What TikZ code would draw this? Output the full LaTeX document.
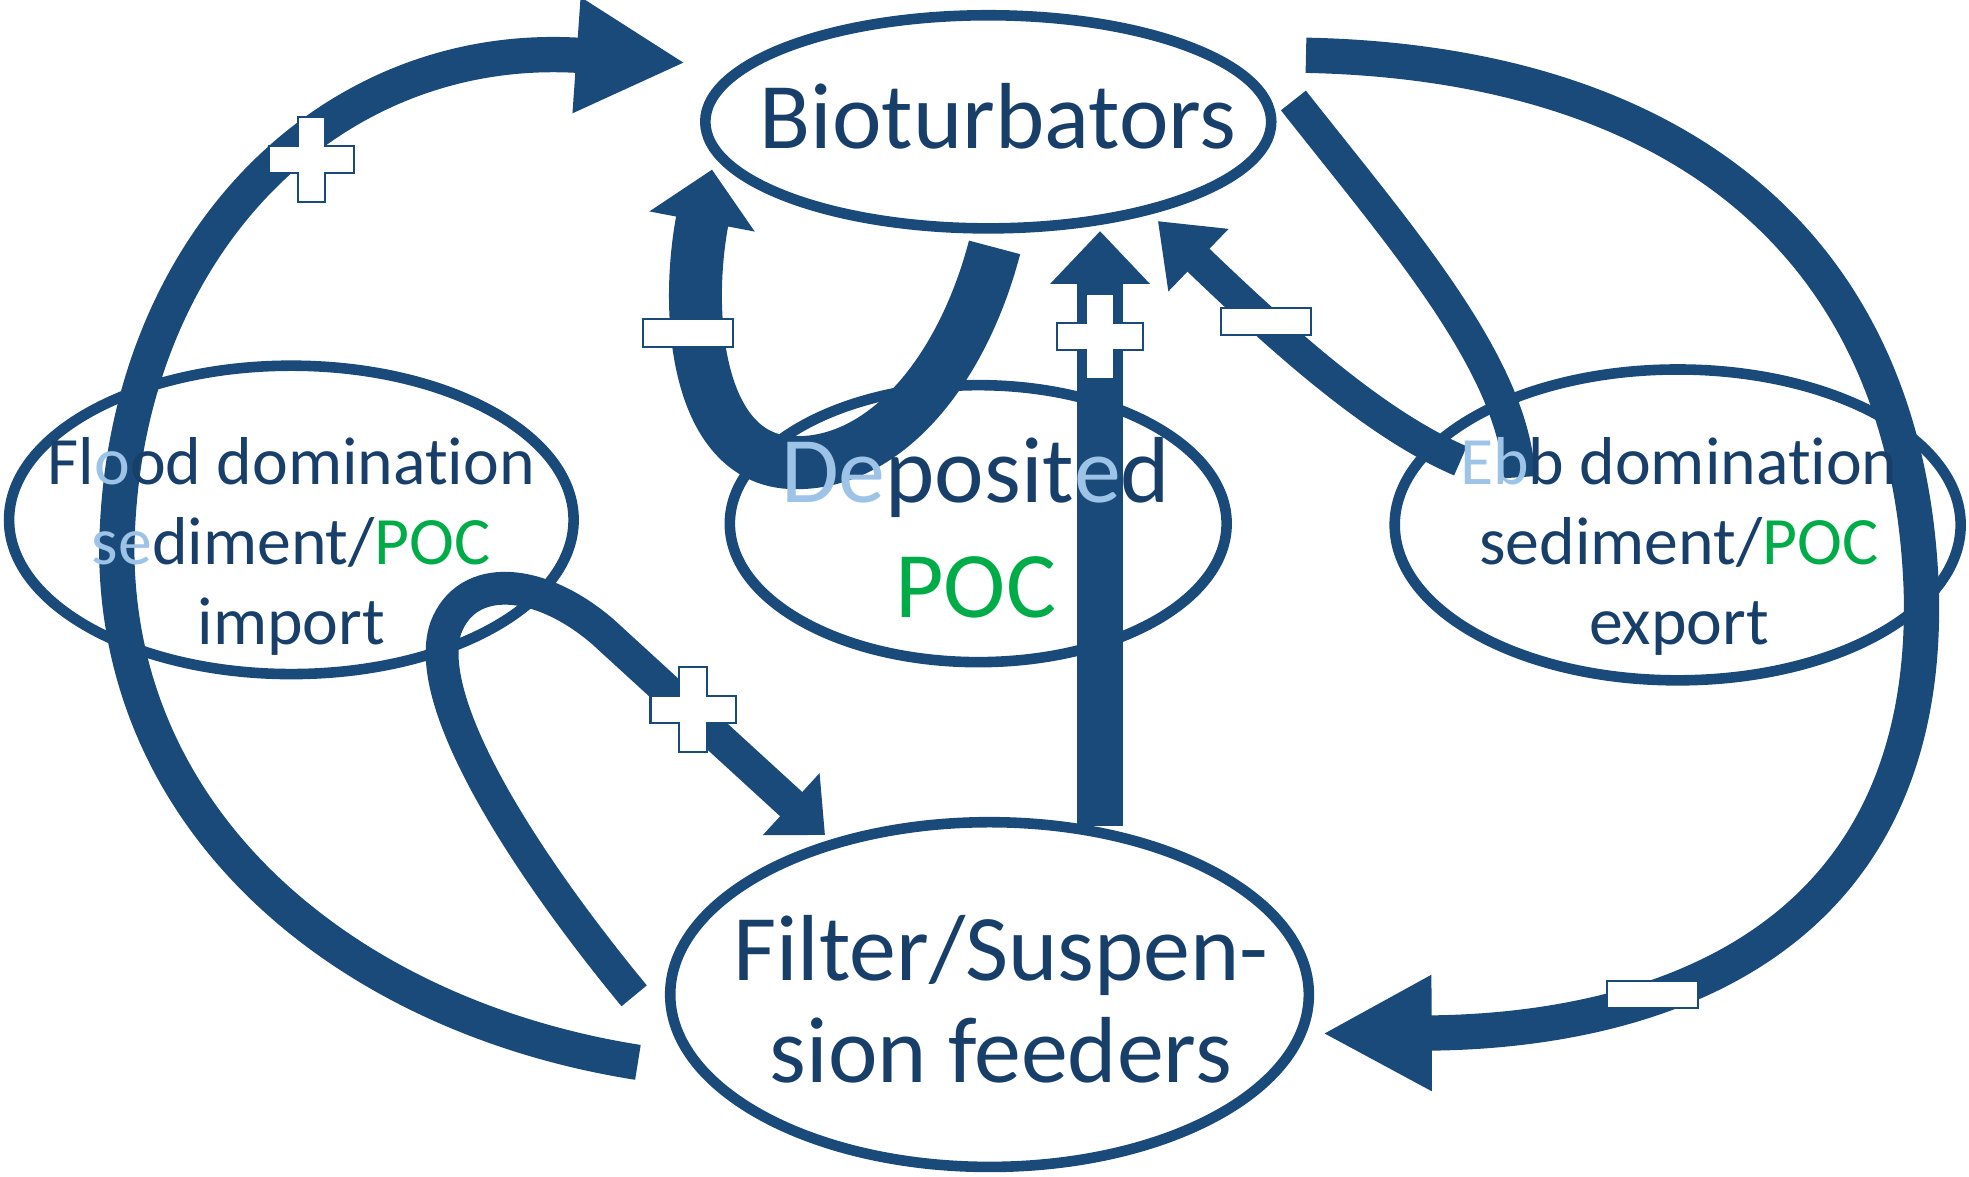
\documentclass[tikz,border=0pt]{standalone}
\usepackage{fontspec}
\setmainfont{Carlito}[RawFeature={-liga;-clig;-calt;-dlig}]
\usetikzlibrary{arrows.meta,shapes.geometric}
\definecolor{navy}{RGB}{26,74,122}
\definecolor{ink}{RGB}{24,62,106}
\definecolor{pocgreen}{RGB}{0,172,72}
\definecolor{pale}{RGB}{157,195,230}
\tikzset{
	blob/.style={ellipse, draw=navy, line width=3pt, inner sep=0pt},
	flow/.style={draw=navy, line width=#1},
	sgn/.style={fill=white, draw=navy, line width=0.6pt},
	bigtxt/.style={text=ink, font=\fontsize{26.6}{29}\selectfont, align=center, anchor=base, inner sep=0pt},
	smalltxt/.style={text=ink, font=\fontsize{19.2}{22.6}\selectfont, align=center, anchor=base, inner sep=0pt},
}
\newcommand{\poc}{\textcolor{pocgreen}{POC}}
\newcommand{\pl}[1]{\textcolor{pale}{#1}}
\begin{document}
\begin{tikzpicture}[x=0.3559pt, y=-0.3559pt]
	\useasboundingbox (0,0) rectangle (1568,937);
	%Ellipses.
	\node[blob, minimum width=160.4pt, minimum height=60.4pt] (bio) at (787,97) {};
	\node[blob, minimum width=140.8pt, minimum height=78.5pt] (dep) at (779,417) {};
	\node[blob, minimum width=160.0pt, minimum height=87.4pt] (flood) at (232,414) {};
	\node[blob, minimum width=160.4pt, minimum height=88.1pt] (ebb) at (1336,418) {};
	\node[blob, minimum width=181.0pt, minimum height=97.7pt] (filt) at (788,792) {};
	%Free ends of the arrows.
	\coordinate (la0) at (508,846); \coordinate (la1) at (546,50);
	\coordinate (ra0) at (1040,44); \coordinate (ra1) at (1053,823);
	\coordinate (ua0) at (792,197); \coordinate (ua1) at (567,135);
	\coordinate (va0) at (876,658); \coordinate (va1) at (876,184);
	\coordinate (ea0) at (1163,367); \coordinate (ea1) at (922,176);
	\coordinate (ba0) at (1030,80); \coordinate (ba1) at (1210,380);
	\coordinate (fa0) at (505,793); \coordinate (fa1) at (657,665);
	%Arrows.
	\draw[flow=10pt, -{Triangle[length=31pt, width=30.6pt]}] (la0) .. controls (280,810) and (95,660) .. (93,440) .. controls (95,200) and (260,30) .. (la1);
	\draw[flow=10pt, -{Triangle[length=31pt, width=30.6pt]}] (ra0) .. controls (1330,50) and (1520,190) .. (1530,470) .. controls (1538,770) and (1290,822) .. (ra1);
	\draw[flow=15pt, -{Triangle[length=15pt, width=29.5pt]}] (ua0) .. controls (765,300) and (700,375) .. (625,368) .. controls (555,360) and (545,250) .. (ua1);
	\draw[flow=13.2pt, -{Triangle[length=15pt, width=27.4pt]}] (va0) -- (va1);
	\draw[flow=9pt, -{Triangle[length=16pt, width=23.5pt]}] (ea0) .. controls (1100,340) and (1030,280) .. (ea1);
	\draw[flow=9pt] (ba0) .. controls (1115,188) and (1205,290) .. (ba1);
	\draw[flow=9.3pt, -{Triangle[length=13pt, width=23pt]}] (fa0) .. controls (420,690) and (335,560) .. (355,500) .. controls (372,455) and (430,460) .. (480,503) -- (fa1);
	%Signs.
	\foreach \cx/\cy in {248/127, 876/268, 552/565}{
		\filldraw[sgn, shift={(\cx,\cy)}] (-11,-34) -- (11,-34) -- (11,-11) -- (34,-11) -- (34,11) -- (11,11) -- (11,34) -- (-11,34) -- (-11,11) -- (-34,11) -- (-34,-11) -- (-11,-11) -- cycle;
	}
	\foreach \cx/\cy in {548/265, 1008/256, 1316/792}{
		\filldraw[sgn] (\cx-36,\cy-11) rectangle (\cx+36,\cy+11);
	}
	%Texts (multi-line nodes sit on their last baseline).
	\node[bigtxt] (biotxt) at (795,118) {Bioturbators};
	\node[bigtxt, font=\fontsize{26.6}{32.7}\selectfont] (deptxt) at (777,492) {\pl{De}posit\pl{e}d\\\poc};
	\node[bigtxt] (filttxt) at (797,862) {Filter/Suspen-\\sion feeders};
	\node[smalltxt] (floodtxt) at (232,513) {Fl\pl{o}od domination\\\pl{se}diment/\poc\\import};
	\node[smalltxt] (ebbtxt) at (1337,513) {\pl{Eb}b domination\\sediment/\poc\\export};
\end{tikzpicture}
\end{document}
